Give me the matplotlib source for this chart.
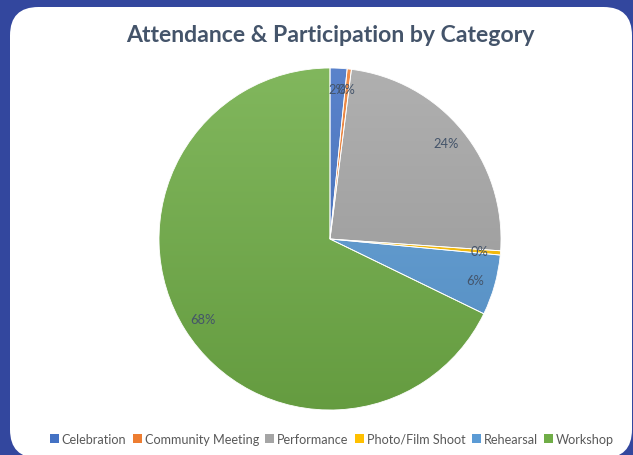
import numpy as np
import matplotlib
matplotlib.use("Agg")
import matplotlib.pyplot as plt
from matplotlib.patches import FancyBboxPatch, Rectangle
from matplotlib.colors import LinearSegmentedColormap, to_rgb

# data (percent of total)
categories = ["Celebration", "Community Meeting", "Performance",
              "Photo/Film Shoot", "Rehearsal", "Workshop"]
shares = [1.6, 0.4, 24.1, 0.4, 5.7, 67.8]
colors = ["#4472C4", "#ED7D31", "#A5A5A5", "#FFC000", "#5B9BD5", "#70AD47"]

title = "Attendance & Participation by Category"
text_col = "#44546A"
bg_col = "#33479E"

W, H = 633, 456
fig = plt.figure(figsize=(W / 100, H / 100), dpi=100)
fig.patch.set_facecolor(bg_col)

# white rounded panel
panel = FancyBboxPatch((10 / W, -3 / H), (632 - 10) / W, (448 + 3) / H,
                       boxstyle="round,pad=0,rounding_size=0.045",
                       transform=fig.transFigure, facecolor="white",
                       edgecolor="none", mutation_aspect=W / H, zorder=-5)
fig.patches.append(panel)

fig.text(330 / W, 1 - 36 / H, title, ha="center", va="center",
         fontsize=16.6, fontweight="bold", color=text_col, family="Lato")

cx, cy, r = 330, 240, 171
ax = fig.add_axes([(cx - r) / W, (H - cy - r) / H, 2 * r / W, 2 * r / H])

wedges, texts, autotexts = ax.pie(
    shares, colors=colors, startangle=90, counterclock=False, radius=1,
    autopct="%1.0f%%", pctdistance=0.88,
    wedgeprops=dict(edgecolor="white", linewidth=0.6),
    textprops=dict(color=text_col, fontsize=9.3, family="Lato",
                   fontstyle="normal", fontweight="normal"))

# excel-like vertical gradient inside each wedge
grad = np.linspace(0, 1, 256).reshape(-1, 1)
for w, c in zip(wedges, colors):
    base = np.array(to_rgb(c))
    top = base + (1 - base) * 0.12
    bot = base * 0.9
    cmap = LinearSegmentedColormap.from_list("g", [bot, top])
    im = ax.imshow(grad, cmap=cmap, extent=(-1, 1, -1, 1), origin="lower",
                   aspect="auto", zorder=w.get_zorder() + 0.1)
    im.set_clip_path(w)
    w.set_facecolor("none")
    w.set_zorder(w.get_zorder() + 0.2)
for t in autotexts:
    t.set_zorder(5)
ax.set_xlim(-1, 1)
ax.set_ylim(-1, 1)
ax.set_aspect("equal")
ax.axis("off")

handles = [Rectangle((0, 0), 1, 1, facecolor=c) for c in colors]
fig.legend(handles, categories, loc="center", bbox_to_anchor=(332 / W, 1 - 440 / H),
           ncol=6, frameon=False, handlelength=0.7, handleheight=0.7,
           handletextpad=0.25, columnspacing=0.5, borderaxespad=0,
           prop=dict(family="Lato", size=9.05), labelcolor="#595959")

fig.savefig("out.png", dpi=100, facecolor=bg_col)
